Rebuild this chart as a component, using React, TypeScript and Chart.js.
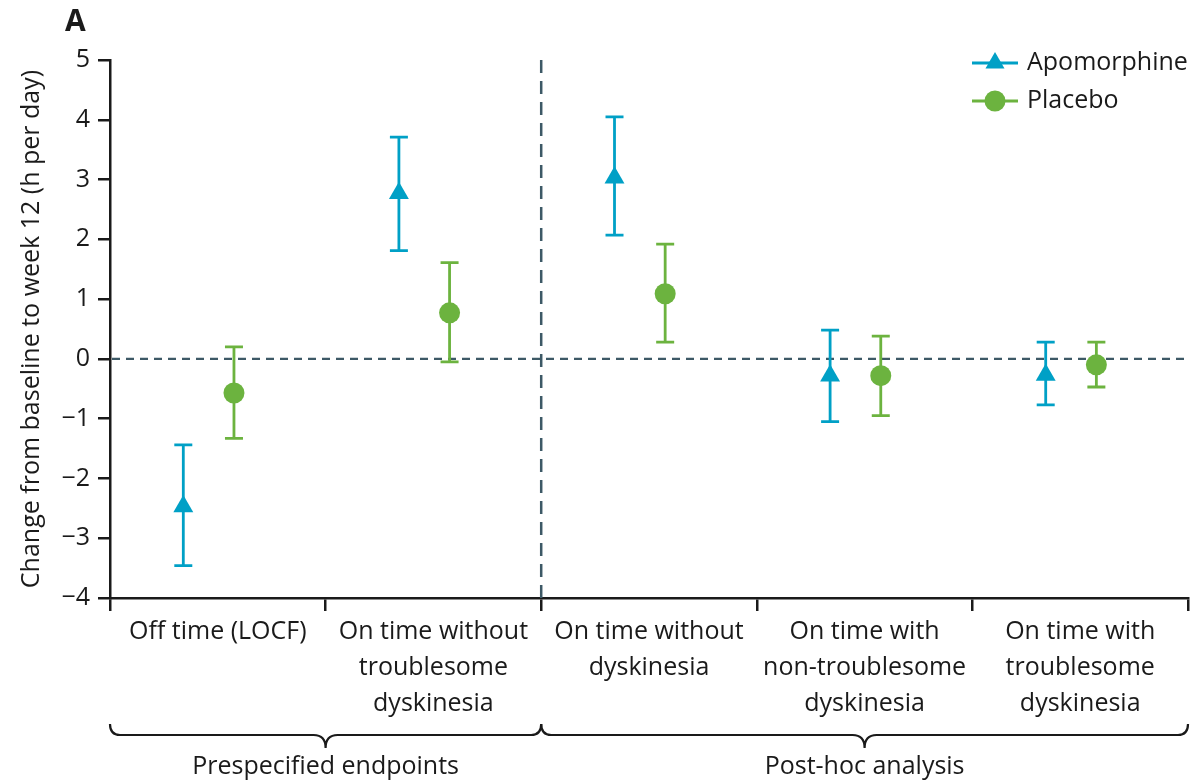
import React, { useEffect, useRef } from 'react';
import { Chart, registerables } from 'chart.js';

Chart.register(...registerables);

// ---------- data ----------
const categories: string[][] = [
  ['Off time (LOCF)'],
  ['On time without', 'troublesome', 'dyskinesia'],
  ['On time without', 'dyskinesia'],
  ['On time with', 'non-troublesome', 'dyskinesia'],
  ['On time with', 'troublesome', 'dyskinesia'],
];
const groupLabels = ['Prespecified endpoints', 'Post-hoc analysis'];
const groupStart = [0, 2];
const groupEnd = [2, 5];

const seriesNames = ['Apomorphine', 'Placebo'];
const apoMean = [-2.47, 2.77, 3.03, -0.28, -0.27];
const apoLow = [-3.46, 1.81, 2.07, -1.05, -0.77];
const apoHigh = [-1.44, 3.71, 4.05, 0.48, 0.28];
const plaMean = [-0.57, 0.77, 1.09, -0.28, -0.1];
const plaLow = [-1.33, -0.05, 0.28, -0.95, -0.47];
const plaHigh = [0.2, 1.61, 1.92, 0.38, 0.28];

const yMin = -4;
const yMax = 5;
const yTitle = 'Change from baseline to week 12 (h per day)';
const panelLabel = 'A';

// ---------- style ----------
const FONT = "'Open Sans', 'Noto Sans', sans-serif";
const TEXT = '#1a1a1a';
const BLUE = '#00a0c6';
const GREEN = '#6cb33f';
const DASH = '#3d5966';
const APO_OFFSET = 0.34;
const PLA_OFFSET = 0.575;

const overlay = {
  id: 'overlay',
  beforeDatasetsDraw(chart: any) {
    const { ctx, chartArea, scales } = chart;
    const x = scales.x;
    const y = scales.y;
    ctx.save();
    // zero reference line
    ctx.strokeStyle = DASH;
    ctx.lineWidth = 2.2;
    ctx.setLineDash([8, 6]);
    const y0 = y.getPixelForValue(0);
    ctx.beginPath();
    ctx.moveTo(chartArea.left + 2, y0);
    ctx.lineTo(chartArea.right, y0);
    ctx.stroke();
    // group separator
    ctx.lineWidth = 2.5;
    ctx.setLineDash([13, 8]);
    const xs = x.getPixelForValue(groupEnd[0]);
    ctx.beginPath();
    ctx.moveTo(xs, chartArea.top);
    ctx.lineTo(xs, chartArea.bottom);
    ctx.stroke();
    ctx.setLineDash([]);
    // error bars
    const drawErr = (xv: number, lo: number, hi: number, color: string) => {
      const px = x.getPixelForValue(xv);
      const pl = y.getPixelForValue(lo);
      const ph = y.getPixelForValue(hi);
      ctx.strokeStyle = color;
      ctx.lineWidth = 2.8;
      ctx.beginPath();
      ctx.moveTo(px, pl);
      ctx.lineTo(px, ph);
      ctx.moveTo(px - 9, pl);
      ctx.lineTo(px + 9, pl);
      ctx.moveTo(px - 9, ph);
      ctx.lineTo(px + 9, ph);
      ctx.stroke();
    };
    categories.forEach((_, i) => {
      drawErr(i + APO_OFFSET, apoLow[i], apoHigh[i], BLUE);
      drawErr(i + PLA_OFFSET, plaLow[i], plaHigh[i], GREEN);
    });
    ctx.restore();
  },
  afterDraw(chart: any) {
    const { ctx, chartArea, scales } = chart;
    const x = scales.x;
    ctx.save();
    ctx.fillStyle = TEXT;
    ctx.textAlign = 'center';
    ctx.textBaseline = 'middle';
    ctx.font = `25px ${FONT}`;
    // category labels
    categories.forEach((lines, i) => {
      const cx = x.getPixelForValue(i + 0.5);
      lines.forEach((t, j) => ctx.fillText(t, cx, 632 + j * 36));
    });
    // braces
    ctx.strokeStyle = TEXT;
    ctx.lineWidth = 2.2;
    const brace = (x1: number, x2: number) => {
      const xm = (x1 + x2) / 2;
      const yEnd = 724;
      const yH = 735;
      const yTip = 748;
      ctx.beginPath();
      ctx.moveTo(x1, yEnd);
      ctx.quadraticCurveTo(x1, yH, x1 + 10, yH);
      ctx.lineTo(xm - 12, yH);
      ctx.quadraticCurveTo(xm, yH, xm, yTip);
      ctx.quadraticCurveTo(xm, yH, xm + 12, yH);
      ctx.lineTo(x2 - 10, yH);
      ctx.quadraticCurveTo(x2, yH, x2, yEnd);
      ctx.stroke();
    };
    groupLabels.forEach((g, k) => {
      const x1 = x.getPixelForValue(groupStart[k]);
      const x2 = x.getPixelForValue(groupEnd[k]);
      brace(x1, x2);
      ctx.fillText(g, (x1 + x2) / 2, 767);
    });
    // y title
    ctx.save();
    ctx.translate(32, (chartArea.top + chartArea.bottom) / 2);
    ctx.rotate(-Math.PI / 2);
    ctx.fillText(yTitle, 0, 0);
    ctx.restore();
    // panel label
    ctx.font = `bold 30px ${FONT}`;
    ctx.textAlign = 'left';
    ctx.fillText(panelLabel, 65, 22);
    // legend
    ctx.font = `25px ${FONT}`;
    const legend = [
      { name: seriesNames[0], color: BLUE, style: 'triangle', r: 11 },
      { name: seriesNames[1], color: GREEN, style: 'circle', r: 10.5 },
    ];
    legend.forEach((it, k) => {
      const ly = 63 + k * 38;
      ctx.strokeStyle = it.color;
      ctx.lineWidth = 2.8;
      ctx.beginPath();
      ctx.moveTo(972, ly);
      ctx.lineTo(1018, ly);
      ctx.stroke();
      ctx.fillStyle = it.color;
      if (it.style === 'circle') {
        ctx.beginPath();
        ctx.arc(995, ly, it.r, 0, Math.PI * 2);
        ctx.fill();
      } else {
        ctx.beginPath();
        ctx.moveTo(995, ly - it.r);
        ctx.lineTo(995 + it.r * 0.866, ly + it.r * 0.5);
        ctx.lineTo(995 - it.r * 0.866, ly + it.r * 0.5);
        ctx.closePath();
        ctx.fill();
      }
      ctx.fillStyle = TEXT;
      ctx.fillText(it.name, 1027, ly);
    });
    ctx.restore();
  },
};

export default function App() {
  const ref = useRef<HTMLCanvasElement>(null);
  useEffect(() => {
    if (!ref.current) return;
    const chart = new Chart(ref.current, {
      type: 'scatter',
      data: {
        datasets: [
          {
            label: seriesNames[0],
            data: apoMean.map((v, i) => ({ x: i + APO_OFFSET, y: v })),
            pointStyle: 'triangle',
            pointRadius: 11.5,
            backgroundColor: BLUE,
            borderColor: BLUE,
            borderWidth: 0,
          },
          {
            label: seriesNames[1],
            data: plaMean.map((v, i) => ({ x: i + PLA_OFFSET, y: v })),
            pointStyle: 'circle',
            pointRadius: 10.5,
            backgroundColor: GREEN,
            borderColor: GREEN,
            borderWidth: 0,
          },
        ],
      },
      options: {
        animation: false,
        responsive: true,
        maintainAspectRatio: false,
        layout: { autoPadding: false, padding: { top: 60, right: 4, left: 0, bottom: 0 } },
        plugins: { legend: { display: false }, tooltip: { enabled: false } },
        scales: {
          x: {
            type: 'linear',
            min: 0,
            max: categories.length,
            afterFit: (s: any) => {
              s.height = 185;
            },
            border: { color: TEXT, width: 2.5 },
            grid: { drawOnChartArea: false, drawTicks: true, tickLength: 13, color: TEXT, lineWidth: 2.5 },
            ticks: { display: false, stepSize: 1 },
          },
          y: {
            min: yMin,
            max: yMax,
            afterFit: (s: any) => {
              s.width = 110;
            },
            border: { color: TEXT, width: 2.5 },
            grid: { drawOnChartArea: false, drawTicks: true, tickLength: 12, color: TEXT, lineWidth: 2.5 },
            ticks: {
              stepSize: 1,
              color: TEXT,
              padding: 8,
              font: { family: FONT, size: 25 },
              callback: (v: any) => (v < 0 ? '\u2212' + Math.abs(v) : String(v)),
            },
          },
        },
      } as any,
      plugins: [overlay],
    });
    return () => chart.destroy();
  }, []);
  return (
    <div style={{ position: 'absolute', left: 0, top: 0, width: 1192, height: 783 }}>
      <canvas ref={ref} />
    </div>
  );
}
